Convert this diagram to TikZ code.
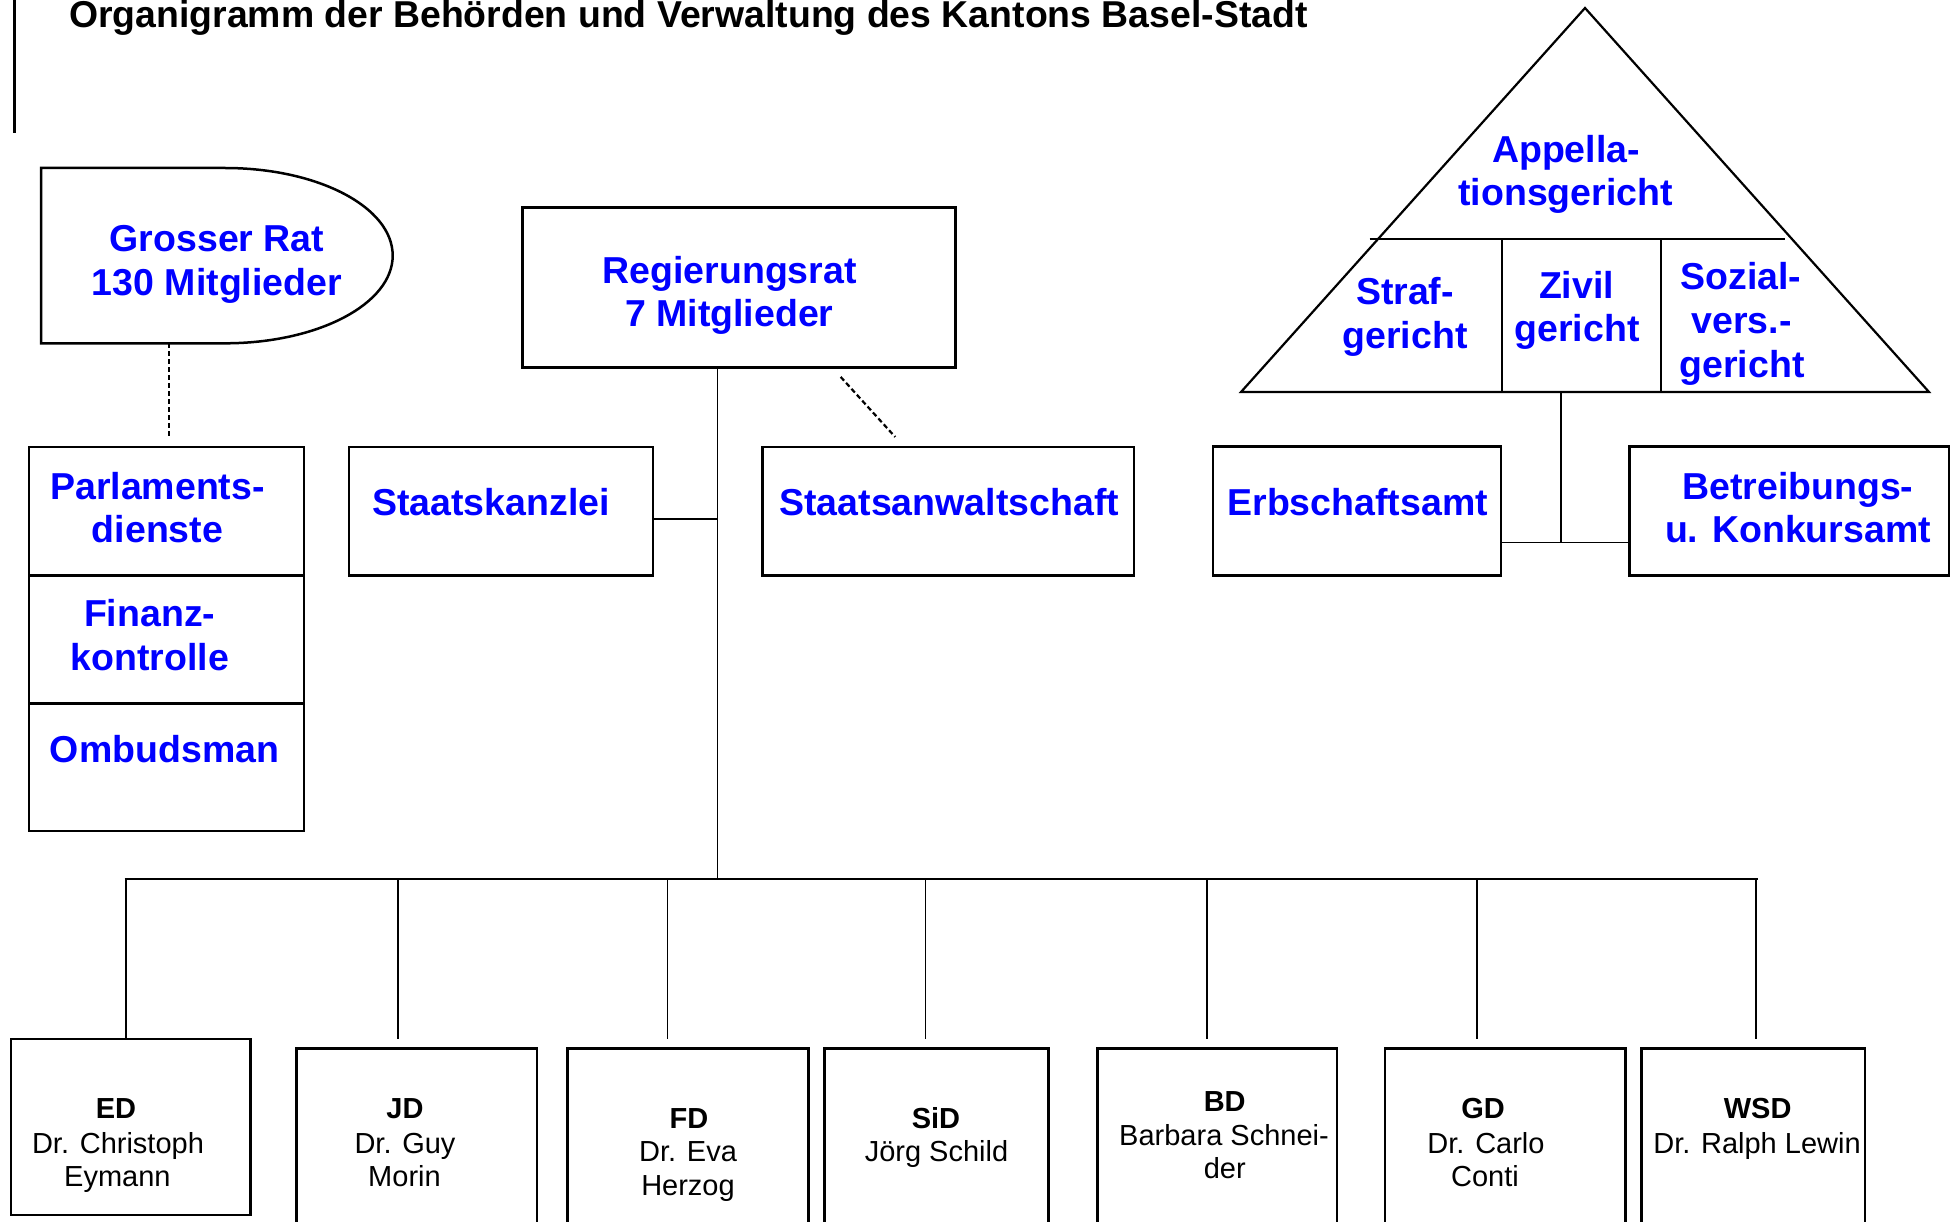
\documentclass[tikz,border=0pt]{standalone}
\usepackage{fontspec}
\setmainfont{Liberation Sans}
\begin{document}
\begin{tikzpicture}[x=1pt,y=-1pt,
  box/.style={draw, line width=2.5pt, inner sep=0pt},
  conn/.style={line width=1.8pt},
  dconn/.style={line width=2.2pt, dash pattern=on 5pt off 3pt},
  shp/.style={line width=2.5pt},
  btxt/.style={text=blue, font=\bfseries\fontsize{37.5}{44}\selectfont, anchor=base, inner sep=0pt},
  ntxt/.style={font=\fontsize{29}{34}\selectfont, anchor=base, inner sep=0pt},
  ntb/.style={font=\bfseries\fontsize{29}{34}\selectfont, anchor=base, inner sep=0pt}]
\useasboundingbox (0,0) rectangle (1955,1222);
\clip (0,0) rectangle (1955,1222);

% title
\draw[line width=3pt] (14,0) -- (14,133);
\node[anchor=base west, inner sep=0pt, font=\bfseries\fontsize{37.4}{44}\selectfont] (title) at (68.9,27.7)
  {Organigramm der Behörden und Verwaltung des Kantons Basel-Stadt};

% Grosser Rat
\node[inner sep=0pt, minimum width=352pt, minimum height=175.4pt] (gr) at (217,255.6) {};
\draw[shp] (41,168) -- (225,168) .. controls (317.8,168) and (392.7,207) .. (392.7,255.6)
  .. controls (392.7,304) and (317.8,343.3) .. (225,343.3) -- (41,343.3) -- cycle;
\node[btxt] (gr1) at (217,251.8) {Grosser Rat};
\node[btxt] (gr2) at (217,296) {130 Mitglieder};

% Parlament stack
\node[box, minimum width=275pt, minimum height=128.4pt] (parl) at (166.5,511.2) {};
\node[box, minimum width=275pt, minimum height=128.2pt] (fin) at (166.5,639.5) {};
\node[box, minimum width=275pt, minimum height=127.2pt] (omb) at (166.5,767.2) {};
\node[btxt] (parl1) at (157.5,499.6) {Parlaments-};
\node[btxt] (parl2) at (157.5,542.9) {dienste};
\node[btxt] (fin1) at (149.7,626.8) {Finanz-};
\node[btxt] (fin2) at (149.7,670) {kontrolle};
\node[btxt] (omb1) at (164.5,762.5) {Ombudsman};
\draw[dconn] ([xshift=-48pt]gr.south) -- ([xshift=2.5pt,yshift=8pt]parl.north);

% Regierungsrat
\node[box, minimum width=433pt, minimum height=160.4pt] (rr) at (738.9,287.5) {};
\node[btxt] (rr1) at (729.6,283.3) {Regierungsrat};
\node[btxt] (rr2) at (729.3,326.7) {7 Mitglieder};

\node[box, minimum width=304pt, minimum height=128.5pt] (sk) at (501,511.2) {};
\node[btxt] (sk1) at (491,515) {Staatskanzlei};
\node[box, minimum width=371.4pt, minimum height=128.5pt] (sa) at (948.3,511.2) {};
\node[btxt] (sa1) at (949.2,515) {Staatsanwaltschaft};

\draw[dconn] ([xshift=101.8pt,yshift=-8pt]rr.south) -- ([xshift=-53.1pt,yshift=8.7pt]sa.north);

% bus
\coordinate (busM) at (717.5,879);
\coordinate (busL) at (124.7,879);
\coordinate (busR) at (1758,879);
\coordinate (dropY) at (0,1039);
\draw[conn] ([xshift=-21.4pt]rr.south) -- (busM);
\draw[conn] ([yshift=-8pt]sk.east) -- ([yshift=-8pt]sk.east -| busM);
\draw[conn] (busL) -- (busR);

% courts
\coordinate (apex) at (1585,8);
\coordinate (tbl) at (1241,392);
\coordinate (tbr) at (1929,392);
\draw[line width=2.2pt] (apex) -- (tbr) -- (tbl) -- cycle;
\draw[line width=2.4pt] (1369.5,239) -- (1785,239);
\draw[line width=2pt] (1502,239) -- (1502,392);
\draw[line width=2pt] (1661,239) -- (1661,392);
\node[btxt] (ap1) at (1566,162.7) {Appella-};
\node[btxt] (ap2) at (1565.6,205.5) {tionsgericht};
\node[btxt] (st1) at (1405,305) {Straf-};
\node[btxt] (st2) at (1405,348.3) {gericht};
\node[btxt] (zi1) at (1576.5,298.3) {Zivil};
\node[btxt] (zi2) at (1577,341.7) {gericht};
\node[btxt] (so1) at (1741,290) {Sozial-};
\node[btxt] (so2) at (1741.6,333.3) {vers.-};
\node[btxt] (so3) at (1742,377.5) {gericht};

\node[box, minimum width=288pt, minimum height=128.5pt] (eb) at (1357,511) {};
\node[btxt] (eb1) at (1357.7,515) {Erbschaftsamt};
\node[box, minimum width=319.2pt, minimum height=128.5pt] (bk) at (1789.2,511) {};
\node[btxt] (bk1) at (1797.8,499.6) {Betreibungs-};
\node[btxt] (bk2) at (1798,542.9) {u. Konkursamt};
\coordinate (tb) at (1561,392);
\coordinate (jc) at (1561,542.4);
\draw[conn] (tb) -- (jc);
\draw[conn] (eb.east |- jc) -- (bk.west |- jc);

% departments
\node[box, minimum width=239.8pt, minimum height=176pt] (ED) at (130.7,1127) {};
\node[box, minimum width=240.4pt, minimum height=201.7pt] (JD) at (416.8,1149.15) {};
\node[box, minimum width=241pt, minimum height=201.7pt] (FD) at (688.2,1149.15) {};
\node[box, minimum width=224pt, minimum height=201.7pt] (SiD) at (936.6,1149.15) {};
\node[box, minimum width=239.4pt, minimum height=201.7pt] (BD) at (1217.1,1149.15) {};
\node[box, minimum width=240.6pt, minimum height=201.7pt] (GD) at (1505.2,1149.15) {};
\node[box, minimum width=223.5pt, minimum height=201.7pt] (WSD) at (1753,1149.15) {};

\coordinate (dED) at (125.6,879);
\coordinate (dJD) at (398,879);
\coordinate (dFD) at (667.5,879);
\coordinate (dSiD) at (925.5,879);
\coordinate (dBD) at (1207,879);
\coordinate (dGD) at (1477,879);
\coordinate (dWSD) at (1756,879);
\draw[conn] (dED) -- (dED |- ED.north);
\foreach \d in {dJD,dFD,dSiD,dBD,dGD,dWSD} \draw[conn] (\d) -- (\d |- dropY);

\node[ntb] (ED1) at (116,1118.3) {ED};
\node[ntxt] (ED2) at (118,1153.3) {Dr. Christoph};
\node[ntxt] (ED3) at (117.4,1186.7) {Eymann};
\node[ntb] (JD1) at (405,1118.3) {JD};
\node[ntxt] (JD2) at (405,1153.3) {Dr. Guy};
\node[ntxt] (JD3) at (404.5,1186.7) {Morin};
\node[ntb] (FD1) at (689,1128.3) {FD};
\node[ntxt] (FD2) at (688,1161.7) {Dr. Eva};
\node[ntxt] (FD3) at (688,1195) {Herzog};
\node[ntb] (SiD1) at (936,1128.3) {SiD};
\node[ntxt] (SiD2) at (936.5,1161.7) {Jörg Schild};
\node[ntb] (BD1) at (1224.7,1111.7) {BD};
\node[ntxt] (BD2) at (1224,1145) {Barbara Schnei-};
\node[ntxt] (BD3) at (1224.7,1178.3) {der};
\node[ntb] (GD1) at (1483,1118.3) {GD};
\node[ntxt] (GD2) at (1486,1153.3) {Dr. Carlo};
\node[ntxt] (GD3) at (1485,1186.7) {Conti};
\node[ntb] (WSD1) at (1757.6,1118.3) {WSD};
\node[ntxt] (WSD2) at (1757,1153.3) {Dr. Ralph Lewin};
\end{tikzpicture}
\end{document}
